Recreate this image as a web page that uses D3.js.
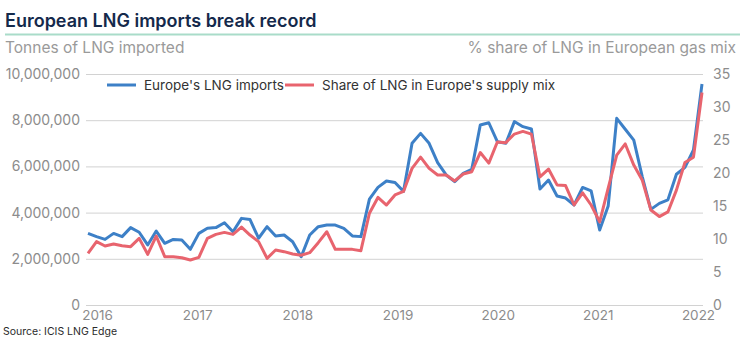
<!DOCTYPE html>
<html>
<head>
<meta charset="utf-8">
<script src="https://cdn.jsdelivr.net/npm/d3@7"></script>
<style>
  html, body { margin: 0; padding: 0; background: #fff; }
  svg { display: block; font-family: Inter, "Open Sans", sans-serif; }
</style>
</head>
<body>
<svg id="chart" width="740" height="341"></svg>
<script>
// Monthly European LNG imports (tonnes) and LNG share of supply mix (%), Jan 2016 - Jan 2022
const imports = [
  3.10e6, 2.96e6, 2.84e6, 3.10e6, 2.96e6, 3.35e6, 3.15e6, 2.60e6, 3.20e6, 2.67e6, 2.84e6, 2.81e6,
  2.41e6, 3.10e6, 3.32e6, 3.35e6, 3.56e6, 3.17e6, 3.75e6, 3.70e6, 2.89e6, 3.39e6, 2.99e6, 3.03e6,
  2.74e6, 2.09e6, 3.03e6, 3.39e6, 3.46e6, 3.46e6, 3.32e6, 2.99e6, 2.96e6, 4.58e6, 5.09e6, 5.37e6,
  5.30e6, 4.92e6, 7.00e6, 7.43e6, 7.00e6, 6.16e6, 5.63e6, 5.34e6, 5.70e6, 5.87e6, 7.79e6, 7.89e6,
  7.07e6, 7.00e6, 7.94e6, 7.72e6, 7.62e6, 5.02e6, 5.41e6, 4.72e6, 4.63e6, 4.33e6, 5.09e6, 4.94e6,
  3.25e6, 4.29e6, 8.08e6, 7.61e6, 7.14e6, 5.55e6, 4.14e6, 4.40e6, 4.55e6, 5.66e6, 5.96e6, 6.71e6,
  9.57e6
];
const share = [
  7.83, 9.6, 8.94, 9.24, 8.99, 8.84, 10.1, 7.68, 10.45, 7.32, 7.32, 7.17,
  6.82, 7.22, 10.1, 10.7, 11.0, 10.7, 11.8, 10.6, 9.6, 7.07, 8.33, 8.08,
  7.73, 7.53, 7.93, 9.44, 11.1, 8.43, 8.43, 8.43, 8.23, 13.9, 16.3, 15.15,
  16.67, 17.2, 20.7, 22.4, 20.7, 19.7, 19.7, 18.8, 19.85, 20.2, 23.1, 21.5,
  24.7, 24.6, 25.9, 26.3, 25.9, 19.4, 20.6, 18.2, 18.1, 15.15, 17.0, 15.15,
  12.6, 17.7, 22.7, 24.4, 21.2, 18.9, 14.4, 13.4, 14.1, 17.4, 21.6, 22.4,
  32.2
];
const yearLabels = ["2016", "2017", "2018", "2019", "2020", "2021", "2022"];
const leftTicks = [0, 2e6, 4e6, 6e6, 8e6, 10e6];
const rightTicks = [0, 5, 10, 15, 20, 25, 30, 35];
const seriesNames = ["Europe's LNG imports", "Share of LNG in Europe's supply mix"];

const BLUE = "#3d80c7", RED = "#e8646e";
const svg = d3.select("#chart");

// Header
svg.append("text").attr("x", 5).attr("y", 27)
  .attr("font-size", 18).attr("font-weight", 600).attr("fill", "#14294b")
  .text("European LNG imports break record");
svg.append("line").attr("x1", 5).attr("x2", 740).attr("y1", 34.5).attr("y2", 34.5)
  .attr("stroke", "#a9dcc9").attr("stroke-width", 2);
svg.append("text").attr("x", 5).attr("y", 53)
  .attr("font-size", 15.5).attr("fill", "#9a9a9a").text("Tonnes of LNG imported");
svg.append("text").attr("x", 736).attr("y", 53).attr("text-anchor", "end")
  .attr("font-size", 15.5).attr("fill", "#9a9a9a").text("% share of LNG in European gas mix");

// Scales
const x = d3.scaleLinear().domain([0, imports.length - 1]).range([88, 702]);
const xYears = d3.scalePoint().domain(yearLabels).range([97, 698]);
const yL = d3.scaleLinear().domain([0, 10e6]).range([305, 74]);
const yR = d3.scaleLinear().domain([0, 35]).range([305, 74]);
const gridX0 = 86, gridX1 = 703;

// Left axis with gridlines
const gL = svg.append("g").attr("transform", `translate(${gridX0},0)`)
  .call(d3.axisLeft(yL).tickValues(leftTicks).tickFormat(d3.format(",")).tickSize(-(gridX1 - gridX0)).tickPadding(6));
gL.select(".domain").remove();
gL.selectAll(".tick line").attr("stroke", "#d2d2d2").attr("stroke-width", 1);
gL.selectAll(".tick text").attr("font-size", 14).attr("fill", "#8c8c8c").attr("font-family", "Inter, sans-serif");

// Right axis labels
const gR = svg.append("g").attr("transform", `translate(${gridX1},0)`)
  .call(d3.axisRight(yR).tickValues(rightTicks).tickSize(0).tickPadding(10));
gR.select(".domain").remove();
gR.selectAll(".tick text").attr("font-size", 14).attr("fill", "#8c8c8c").attr("font-family", "Inter, sans-serif");

// Bottom axis labels
const gB = svg.append("g").attr("transform", "translate(0,305)")
  .call(d3.axisBottom(xYears).tickSize(0).tickPadding(5));
gB.select(".domain").remove();
gB.selectAll(".tick text").attr("font-size", 13.5).attr("fill", "#8c8c8c").attr("font-family", "Inter, sans-serif");

// Lines
const lineL = d3.line().x((d, i) => x(i)).y(d => yL(d));
const lineR = d3.line().x((d, i) => x(i)).y(d => yR(d));
svg.append("path").datum(imports).attr("d", lineL)
  .attr("fill", "none").attr("stroke", BLUE).attr("stroke-width", 3).attr("stroke-linejoin", "round");
svg.append("path").datum(share).attr("d", lineR)
  .attr("fill", "none").attr("stroke", RED).attr("stroke-width", 3).attr("stroke-linejoin", "round");

// Legend
const legend = [
  { name: seriesNames[0], color: BLUE, x: 107 },
  { name: seriesNames[1], color: RED, x: 285 }
];
legend.forEach(l => {
  svg.append("line").attr("x1", l.x).attr("x2", l.x + 29).attr("y1", 85).attr("y2", 85)
    .attr("stroke", l.color).attr("stroke-width", 3);
  svg.append("text").attr("x", l.x + 37).attr("y", 90)
    .attr("font-size", 13.5).attr("fill", "#333").text(l.name);
});

// Source
svg.append("text").attr("x", 3).attr("y", 335)
  .attr("font-size", 10.5).attr("fill", "#2b2b2b").text("Source: ICIS LNG Edge");
</script>
</body>
</html>
